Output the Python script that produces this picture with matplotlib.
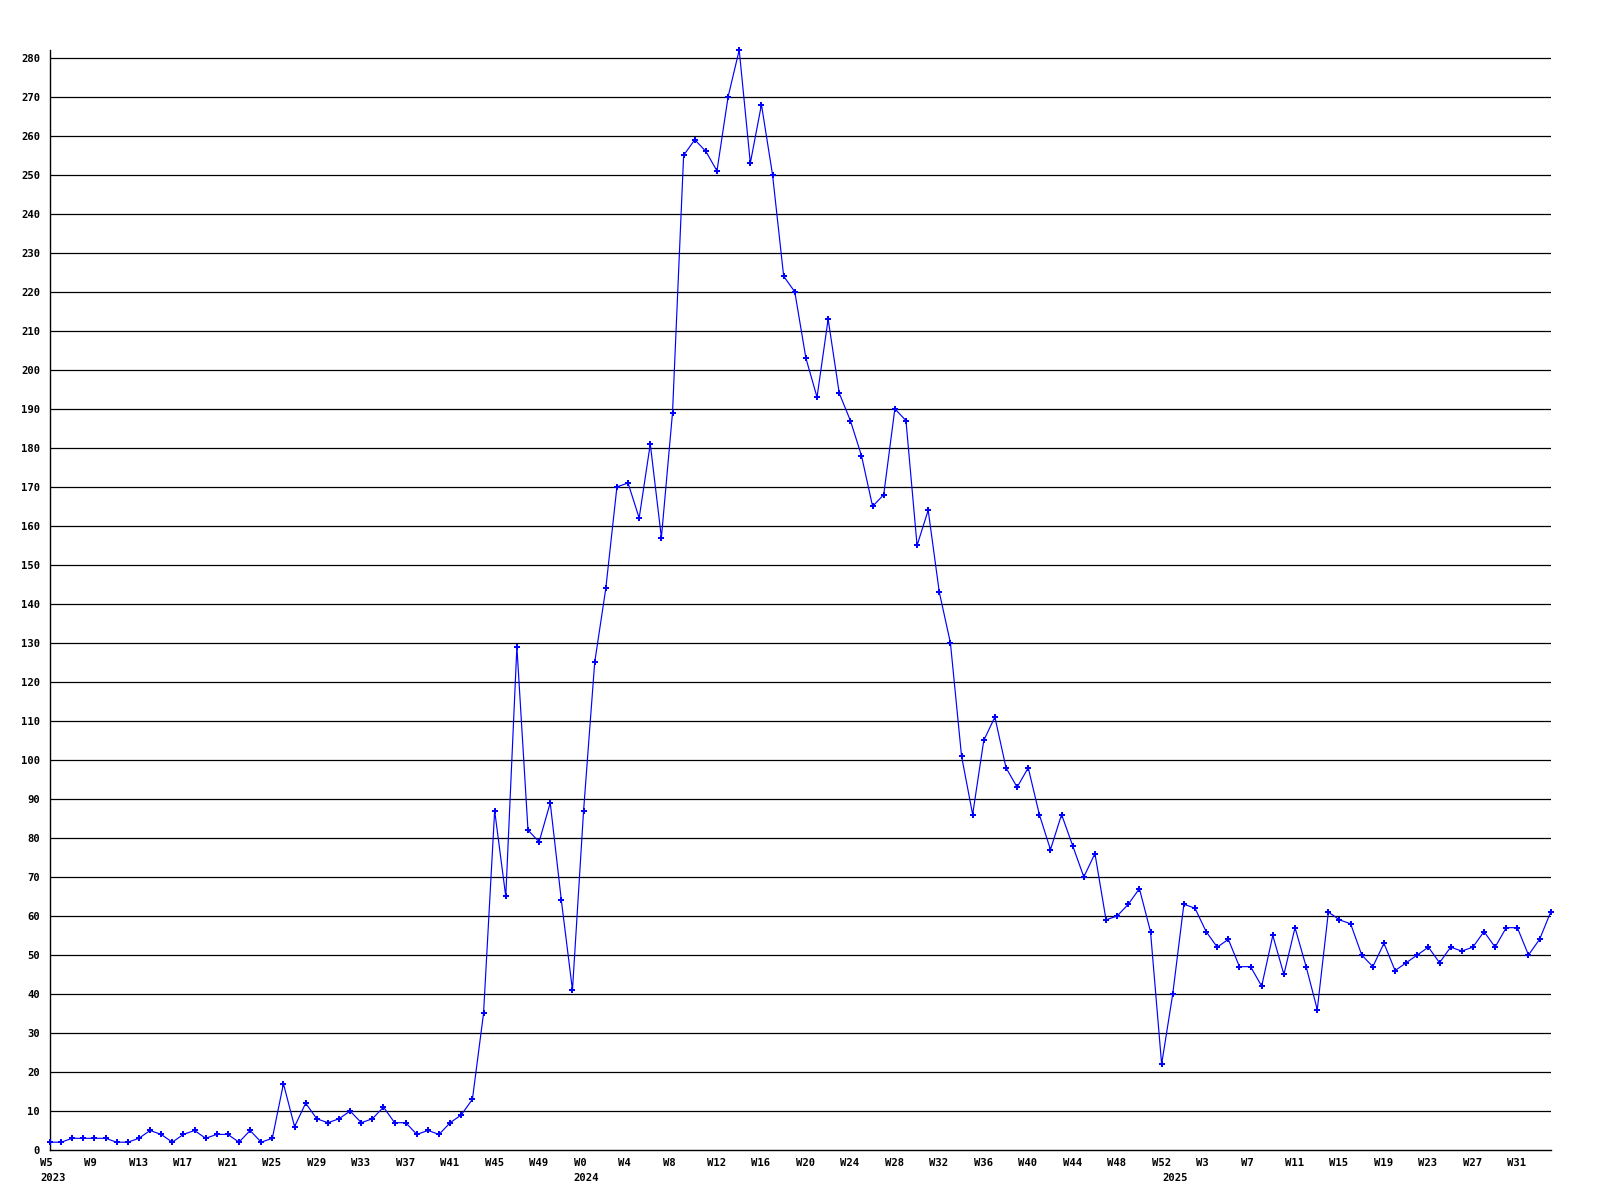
import matplotlib
matplotlib.use("Agg")
import matplotlib.pyplot as plt
import matplotlib.transforms as mtransforms
import numpy as np

# Weekly values (2023 W5..W52, 2024 W0..W52, 2025 W0..W34)
values_2023 = [2, 2, 3, 3, 3, 3, 2, 2, 3, 5, 4, 2, 4, 5, 3, 4, 4, 2, 5, 2, 3, 17, 6, 12,
               8, 7, 8, 10, 7, 8, 11, 7, 7, 4, 5, 4, 7, 9, 13, 35, 87, 65, 129, 82, 79, 89,
               64, 41]
values_2024 = [87, 125, 144, 170, 171, 162, 181, 157, 189, 255, 259, 256, 251, 270, 282,
               253, 268, 250, 224, 220, 203, 193, 213, 194, 187, 178, 165, 168, 190, 187,
               155, 164, 143, 130, 101, 86, 105, 111, 98, 93, 98, 86, 77, 86, 78, 70, 76,
               59, 60, 63, 67, 56, 22]
values_2025 = [40, 63, 62, 56, 52, 54, 47, 47, 42, 55, 45, 57, 47, 36, 61, 59, 58, 50, 47,
               53, 46, 48, 50, 52, 48, 52, 51, 52, 56, 52, 57, 57, 50, 54, 61]

tick_labels = ["W5", "W9", "W13", "W17", "W21", "W25", "W29", "W33", "W37", "W41", "W45",
               "W49", "W0", "W4", "W8", "W12", "W16", "W20", "W24", "W28", "W32", "W36",
               "W40", "W44", "W48", "W52", "W3", "W7", "W11", "W15", "W19", "W23", "W27",
               "W31"]
year_labels = ["2023", "2024", "2025"]

values = values_2023 + values_2024 + values_2025
x = np.arange(len(values))
year_starts = [0, len(values_2023), len(values_2023) + len(values_2024)]

fig = plt.figure(figsize=(16, 12), dpi=100)
ax = fig.add_axes([50 / 1600, 50 / 1200, 1500.7 / 1600, 1100 / 1200])

font = dict(family="DejaVu Sans Mono", weight="bold", size=7.6)

for v in range(10, 290, 10):
    ax.axhline(v, color="black", lw=0.9, zorder=1)

ax.plot(x, values, color="#0000FF", lw=0.85, marker="P", markersize=3.8,
        markeredgewidth=0, zorder=3, clip_on=False)

ax.set_xlim(0, len(values) - 1)
ax.set_ylim(0, 282)

ax.set_yticks(np.arange(0, 290, 10))
ax.set_yticklabels([str(v) for v in range(0, 290, 10)], fontdict=font)
ax.tick_params(axis="y", length=0, pad=7.2)

ax.set_xticks(x[::4])
ax.set_xticklabels(tick_labels, fontdict=font)
ax.tick_params(axis="x", length=0, pad=5.5)
offset = mtransforms.ScaledTranslation(-10 / 100, 0, fig.dpi_scale_trans)
for lab in ax.get_xticklabels():
    lab.set_horizontalalignment("left")
    lab.set_transform(lab.get_transform() + offset)

trans = mtransforms.blended_transform_factory(ax.transData, ax.transAxes)
for pos, lbl in zip(year_starts, year_labels):
    ax.text(pos, 0, lbl, transform=trans + mtransforms.ScaledTranslation(-10 / 100, -23 / 100, fig.dpi_scale_trans),
            ha="left", va="top", **font)

for s in ["top", "right"]:
    ax.spines[s].set_visible(False)
ax.spines["left"].set_linewidth(1.0)
ax.spines["bottom"].set_linewidth(1.0)

fig.savefig("out.png", dpi=100, facecolor="white")
